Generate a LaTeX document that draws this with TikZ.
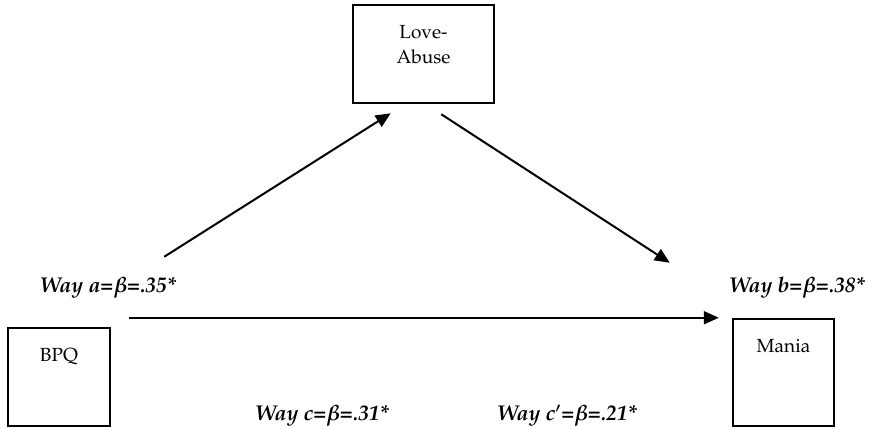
\documentclass[tikz,border=0pt]{standalone}
\usepackage[T1]{fontenc}
\usepackage{mathpazo}
\usetikzlibrary{arrows.meta}
\begin{document}
\begin{tikzpicture}[
   x=0.5pt,y=-0.5pt,
   box/.style={draw,line width=1.25pt,inner sep=0pt,font=\fontsize{9.5}{12.5}\selectfont},
   to/.style={-{Triangle[length=7.5pt,width=6.5pt]},line width=1pt},
   way/.style={anchor=base,inner sep=0pt,font=\fontsize{10.7}{13}\selectfont\bfseries\itshape\boldmath}]
\useasboundingbox (0,0) rectangle (880,429);
\node[box] (Love) at (423.5,54) {\parbox[c][49pt][t]{70.5pt}{\centering\vspace*{10pt}Love-\\Abuse}};
\node[box] (BPQ) at (59,377) {\parbox[c][49pt][t]{51pt}{\centering\vspace*{10pt}BPQ}};
\node[box] (Mania) at (783.5,372.5) {\parbox[c][53.5pt][t]{50.5pt}{\centering\vspace*{10pt}Mania}};
\draw[to] ([shift={(53,-70)}]BPQ.north east) -- ([shift={(39,9)}]Love.south west);
\draw[to] ([shift={(-54,10)}]Love.south east) -- ([shift={(-62,-55)}]Mania.north west);
\draw[to] ([shift={(18,-9)}]BPQ.north east) -- ([shift={(-13,0)}]Mania.north west);
\node[way] (wa) at (108,292) {Way a=$\beta$=.35*};
\node[way] (wb) at (797,292) {Way b=$\beta$=.38*};
\node[way] (wc) at (322,420) {Way c=$\beta$=.31*};
\node[way] (wc') at (567,420) {Way c$^{\scriptscriptstyle\prime}$=$\beta$=.21*};
\end{tikzpicture}
\end{document}
